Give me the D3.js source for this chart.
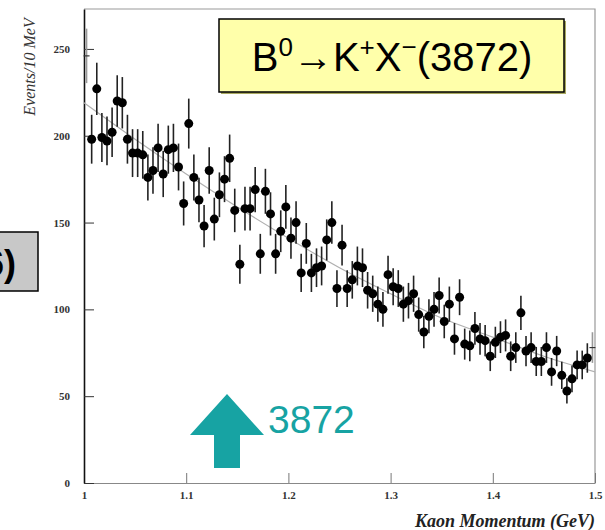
<!DOCTYPE html>
<html>
<head>
<meta charset="utf-8">
<script src="https://cdn.jsdelivr.net/npm/d3@7"></script>
<style>
  body { margin: 0; background: #fff; }
  svg { display: block; }
</style>
</head>
<body>
<div id="chart"></div>
<script>
// kaon momentum histogram, 5 MeV bins from 1.0 to 1.5 GeV
const binStart = 1.0;
const binWidth = 0.005;
const counts = [
  246, 198, 227, 199, 197, 202, 220, 219, 198, 190,
  190, 189, 176, 180, 193, 178, 192, 193, 182, 161,
  207, 176, 163, 148, 180, 152, 166, 175, 187, 157,
  126, 158, 158, 169, 132, 168, 155, 132, 145, 159,
  141, 150, 121, 138, 121, 124, 125, 140, 150, 112,
  137, 112, 117, 125, 124, 111, 109, 103, 100, 120,
  113, 112, 103, 105, 109, 97, 87, 96, 100, 108,
  93, 103, 83, 107, 80, 79, 89, 83, 82, 73,
  81, 84, 85, 73, 78, 98, 76, 78, 70, 70,
  78, 64, 76, 62, 53, 60, 68, 68, 72, 78
];

// background fit curve
const fitMomentum = [1.0, 1.05, 1.1, 1.15, 1.2, 1.25, 1.3, 1.35, 1.4, 1.45, 1.5];
const fitEvents = [219, 198, 178, 159, 141, 124, 109, 95, 84, 73, 64];

const yTicks = [0, 50, 100, 150, 200, 250];
const xTicks = [1, 1.1, 1.2, 1.3, 1.4, 1.5];
const xTickLabels = ['1', '1.1', '1.2', '1.3', '1.4', '1.5'];

const signalLabel = '3872';

/**
 * layout config
 */
const cfg = {
  width: 605,
  height: 530,
  left: 84,
  right: 595,
  top: 9,
  bottom: 483,
  yMax: 273,
  point_radius: 4.5,
  teal: '#17a3a3',
  serif: '"Liberation Serif", "DejaVu Serif", serif',
  sans: '"Liberation Sans", Arial, sans-serif'
};

const svg = d3.select('#chart').append('svg')
  .attr('width', cfg.width)
  .attr('height', cfg.height);

const x = d3.scaleLinear().domain([1, 1.5]).range([cfg.left, cfg.right]);
const y = d3.scaleLinear().domain([0, cfg.yMax]).range([cfg.bottom, cfg.top]);

// frame: top and right borders are light grey
svg.append('path')
  .attr('d', `M${cfg.left},${cfg.top}H${cfg.right}V${cfg.bottom}`)
  .attr('fill', 'none')
  .attr('stroke', '#999')
  .attr('stroke-width', 1.2);

// x axis
const xAxis = svg.append('g')
  .attr('transform', `translate(0,${cfg.bottom})`)
  .call(d3.axisBottom(x)
    .tickValues(xTicks)
    .tickFormat((d, i) => xTickLabels[i])
    .tickSizeInner(-10)
    .tickSizeOuter(0)
    .tickPadding(8));
xAxis.select('.domain').attr('stroke', '#888').attr('stroke-width', 1.2);
xAxis.selectAll('.tick line').attr('stroke', '#777');
xAxis.selectAll('.tick text')
  .attr('font-family', cfg.serif)
  .attr('font-weight', 'bold')
  .attr('font-size', 11)
  .attr('fill', '#333');

// y axis
const yAxis = svg.append('g')
  .attr('transform', `translate(${cfg.left},0)`)
  .call(d3.axisLeft(y)
    .tickValues(yTicks)
    .tickSizeInner(-10)
    .tickSizeOuter(0)
    .tickPadding(14));
yAxis.select('.domain').attr('stroke', '#111').attr('stroke-width', 1.6);
yAxis.selectAll('.tick line').attr('stroke', '#333');
yAxis.selectAll('.tick text')
  .attr('font-family', cfg.serif)
  .attr('font-weight', 'bold')
  .attr('font-size', 11)
  .attr('fill', '#333');

// axis titles
svg.append('text')
  .attr('transform', 'translate(35,67) rotate(-90)')
  .attr('text-anchor', 'middle')
  .attr('font-family', cfg.serif)
  .attr('font-style', 'italic')
  .attr('font-size', 16)
  .attr('fill', '#333')
  .text('Events/10 MeV');

svg.append('text')
  .attr('x', 595)
  .attr('y', 527)
  .attr('text-anchor', 'end')
  .attr('font-family', cfg.serif)
  .attr('font-style', 'italic')
  .attr('font-weight', 'bold')
  .attr('font-size', 18)
  .attr('fill', '#222')
  .text('Kaon Momentum (GeV)');

// fit curve
const line = d3.line()
  .x((d, i) => x(fitMomentum[i]))
  .y(d => y(d))
  .curve(d3.curveMonotoneX);

svg.append('path')
  .datum(fitEvents)
  .attr('fill', 'none')
  .attr('stroke', '#b0b0b0')
  .attr('stroke-width', 1.2)
  .attr('d', line);

// data points with poisson error bars
const bins = counts.map((n, i) => ({
  m: binStart + binWidth * (i + 0.5),
  n: n,
  err: Math.sqrt(n),
  edge: i === 0 || i === counts.length - 1
}));

const pts = svg.append('g');

pts.selectAll('line.err')
  .data(bins)
  .enter().append('line')
  .attr('class', 'err')
  .attr('x1', d => x(d.m))
  .attr('x2', d => x(d.m))
  .attr('y1', d => y(d.n + d.err))
  .attr('y2', d => y(d.n - d.err))
  .attr('stroke', d => d.edge ? '#999' : '#222')
  .attr('stroke-width', 1.6);

pts.selectAll('circle')
  .data(bins.filter(d => !d.edge))
  .enter().append('circle')
  .attr('cx', d => x(d.m))
  .attr('cy', d => y(d.n))
  .attr('r', cfg.point_radius)
  .attr('fill', '#000');

// bins at the frame edges only show a short bar
pts.selectAll('line.edge')
  .data(bins.filter(d => d.edge))
  .enter().append('line')
  .attr('class', 'edge')
  .attr('x1', d => x(d.m) - 3)
  .attr('x2', d => x(d.m) + 3)
  .attr('y1', d => y(d.n))
  .attr('y2', d => y(d.n))
  .attr('stroke', '#333')
  .attr('stroke-width', 1.2);

// title box
const box = svg.append('g');
box.append('rect')
  .attr('x', 221).attr('y', 21)
  .attr('width', 345).attr('height', 73)
  .attr('fill', '#a9a960');
box.append('rect')
  .attr('x', 219).attr('y', 19)
  .attr('width', 345).attr('height', 73)
  .attr('fill', '#ffffaa')
  .attr('stroke', '#000')
  .attr('stroke-width', 1.5);

const title = box.append('text')
  .attr('x', 392)
  .attr('y', 71)
  .attr('text-anchor', 'middle')
  .attr('font-family', cfg.sans)
  .attr('font-size', 40)
  .attr('fill', '#000');
title.append('tspan').text('B');
title.append('tspan').attr('font-size', 26).attr('dy', -15).text('0');
title.append('tspan').attr('dy', 15).attr('font-weight', 'bold').text('\u2192');
title.append('tspan').text('K');
title.append('tspan').attr('font-size', 26).attr('dy', -15).text('+');
title.append('tspan').attr('dy', 15).text('X');
title.append('tspan').attr('font-size', 26).attr('dy', -15).text('\u2212');
title.append('tspan').attr('dy', 15).text('(3872)');

// partly visible grey label on the left edge
svg.append('rect')
  .attr('x', -60).attr('y', 232)
  .attr('width', 98).attr('height', 59)
  .attr('fill', '#c8c8c8')
  .attr('stroke', '#000')
  .attr('stroke-width', 1.5);
svg.append('text')
  .attr('x', 16)
  .attr('y', 276)
  .attr('text-anchor', 'end')
  .attr('font-family', cfg.sans)
  .attr('font-weight', 'bold')
  .attr('font-size', 36)
  .attr('fill', '#000')
  .text('6)');

// signal arrow at 3872
const ax = 227;
svg.append('path')
  .attr('d', `M${ax},394 L${ax + 37},435 L${ax + 13},435 L${ax + 13},468 L${ax - 13},468 L${ax - 13},435 L${ax - 37},435 Z`)
  .attr('fill', cfg.teal);
svg.append('text')
  .attr('x', 268)
  .attr('y', 433)
  .attr('font-family', cfg.sans)
  .attr('font-size', 39)
  .attr('fill', cfg.teal)
  .text(signalLabel);
</script>
</body>
</html>
